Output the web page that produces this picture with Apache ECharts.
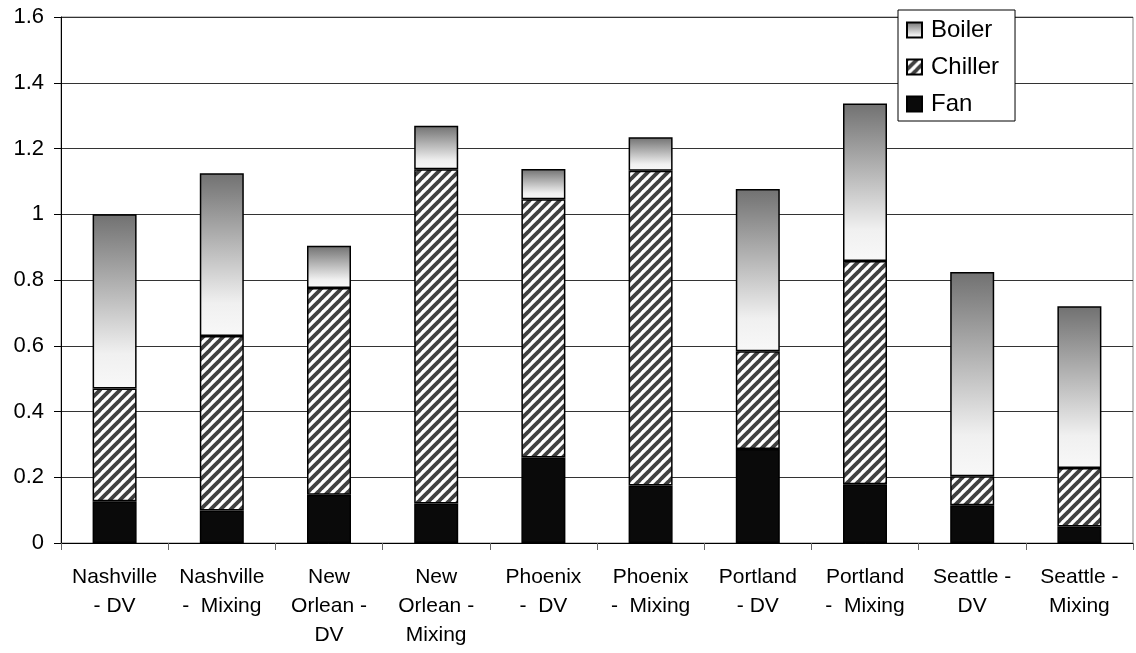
<!DOCTYPE html>
<html>
<head>
<meta charset="utf-8">
<script src="https://cdn.jsdelivr.net/npm/echarts@6/dist/echarts.min.js"></script>
<style>
  html, body { margin: 0; padding: 0; background: #fff; }
  #chart { width: 1136px; height: 653px; }
</style>
</head>
<body>
<div id="chart"></div>
<script>
var categories = ['Nashville\n- DV', 'Nashville\n-  Mixing', 'New\nOrlean -\nDV', 'New\nOrlean -\nMixing',
                  'Phoenix\n-  DV', 'Phoenix\n-  Mixing', 'Portland\n- DV', 'Portland\n-  Mixing',
                  'Seattle -\nDV', 'Seattle -\nMixing'];
var fan     = [0.127, 0.099, 0.147, 0.120, 0.260, 0.175, 0.286, 0.179, 0.115, 0.050];
var chiller = [0.343, 0.531, 0.629, 1.017, 0.786, 0.957, 0.297, 0.679, 0.088, 0.178];
var boiler  = [0.530, 0.495, 0.128, 0.132, 0.092, 0.102, 0.494, 0.479, 0.621, 0.492];
var yTicks  = [0, 0.2, 0.4, 0.6, 0.8, 1, 1.2, 1.4, 1.6];

var FONT = 'Liberation Sans, Arial, sans-serif';

// 斜线纹理 (chiller)
function stripeTile() {
  var s = 10, c = document.createElement('canvas');
  c.width = s; c.height = s;
  var ctx = c.getContext('2d');
  ctx.fillStyle = '#fff';
  ctx.fillRect(0, 0, s, s);
  ctx.strokeStyle = '#404040';
  ctx.lineWidth = 3.8;
  [[-s, 0], [0, 0], [s, 0]].forEach(function(o) {
    ctx.beginPath();
    ctx.moveTo(o[0] - 1, s + 1);
    ctx.lineTo(o[0] + s + 1, -1);
    ctx.stroke();
  });
  return c;
}

var boilerColor = {
  type: 'linear', x: 0, y: 0, x2: 0, y2: 1,
  colorStops: [
    { offset: 0, color: '#717171' },
    { offset: 0.8, color: '#f0f0f0' },
    { offset: 1, color: '#f8f8f8' }
  ]
};

var chart = echarts.init(document.getElementById('chart'));
var border = { borderColor: '#000', borderWidth: 1.5 };

chart.setOption({
  animation: false,
  backgroundColor: '#fff',
  grid: {
    left: 61, right: 3, top: 17, bottom: 110,
    show: true, borderColor: '#888', borderWidth: 1
  },
  legend: {
    orient: 'vertical',
    left: 898, top: 10,
    padding: [8, 16, 5, 8],
    itemWidth: 15, itemHeight: 15, itemGap: 13,
    backgroundColor: '#fff',
    borderColor: '#000', borderWidth: 1,
    icon: 'rect',
    textStyle: { fontFamily: FONT, fontSize: 24, color: '#000', padding: [0, 0, 0, 4] },
    data: ['Boiler', 'Chiller', 'Fan']
  },
  xAxis: {
    type: 'category',
    data: categories,
    axisLine: { lineStyle: { color: '#000', width: 1 } },
    axisTick: { show: true, length: 7, lineStyle: { color: '#666' } },
    axisLabel: {
      fontFamily: FONT, fontSize: 21, color: '#000',
      lineHeight: 29, margin: 20, interval: 0, align: 'center'
    }
  },
  yAxis: {
    type: 'value',
    min: 0, max: 1.6, interval: 0.2,
    axisLine: { show: true, lineStyle: { color: '#000', width: 1 } },
    axisTick: { show: true, length: 7, lineStyle: { color: '#000' } },
    splitLine: { lineStyle: { color: '#333', width: 1 } },
    axisLabel: {
      fontFamily: FONT, fontSize: 22, color: '#000', margin: 17,
      formatter: function(v) {
        var t = yTicks.filter(function(x) { return Math.abs(x - v) < 1e-6; })[0];
        return String(t !== undefined ? t : v);
      }
    }
  },
  series: [
    {
      name: 'Fan', type: 'bar', stack: 'total', barWidth: 44, data: fan,
      itemStyle: Object.assign({ color: '#0a0a0a' }, border)
    },
    {
      name: 'Chiller', type: 'bar', stack: 'total', barWidth: 44, data: chiller,
      itemStyle: Object.assign({ color: { image: stripeTile(), repeat: 'repeat' } }, border)
    },
    {
      name: 'Boiler', type: 'bar', stack: 'total', barWidth: 44, data: boiler,
      itemStyle: Object.assign({ color: boilerColor }, border)
    }
  ]
});
</script>
</body>
</html>
